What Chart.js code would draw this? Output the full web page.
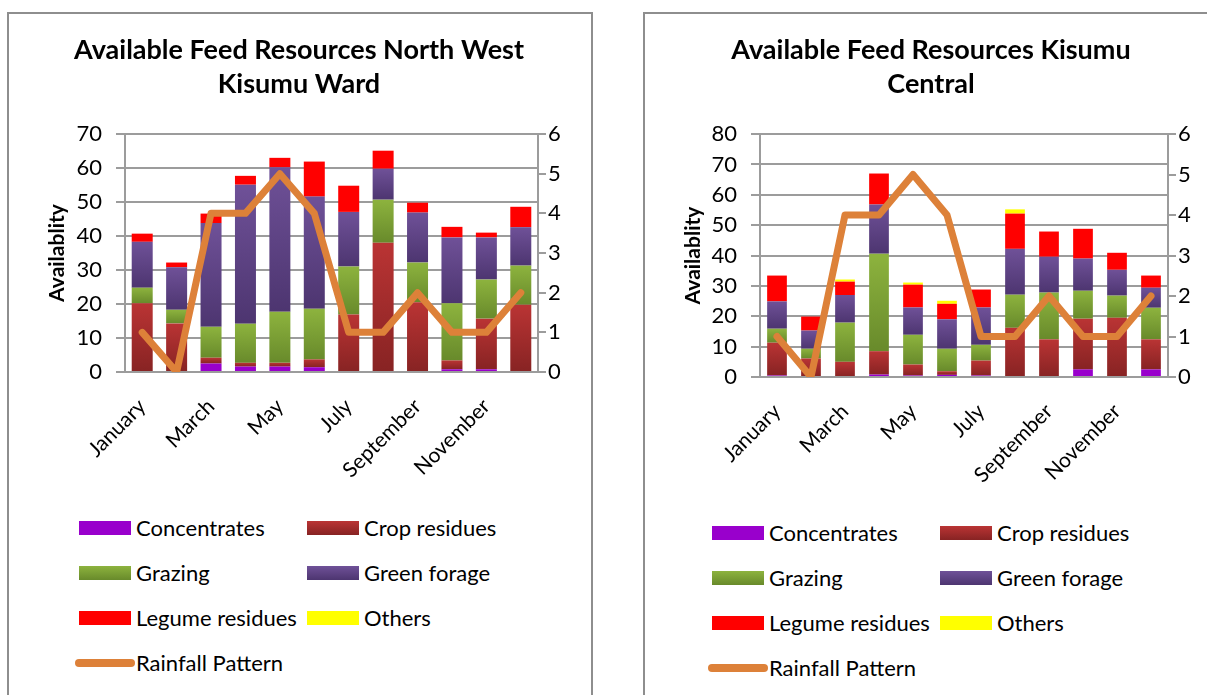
<!DOCTYPE html>
<html>
<head>
<meta charset="utf-8">
<script src="https://cdn.jsdelivr.net/npm/chart.js@4"></script>
<style>
  body { margin: 0; width: 1207px; height: 695px; overflow: hidden; background: #fff; font-family: Lato, sans-serif; }
  .box { position: absolute; top: 12px; height: 720px; border: 2px solid #8e8e8e; box-sizing: border-box; }
  .wrap { position: absolute; top: 14px; }
  .legend { position: absolute; font-size: 22px; color: #000; }
  .legend .item { position: absolute; white-space: nowrap; height: 24px; line-height: 24px; }
  .legend .sw { position: absolute; top: 5px; width: 52px; height: 14px; }
  .legend .ln { position: absolute; top: 8px; height: 8px; border-radius: 4px; }
  .legend .tx { position: absolute; }
</style>
</head>
<body>
<div class="box" style="left:7px; width:586px;"></div>
<div class="box" style="left:643px; width:600px;"></div>

<div class="wrap" style="left:9px; width:580px; height:490px;"><canvas id="chart-nw"></canvas></div>
<div class="wrap" style="left:645px; width:572px; height:490px;"><canvas id="chart-central"></canvas></div>

<div class="legend" id="legend-nw"></div>
<div class="legend" id="legend-central"></div>

<script>
const months = ["January", "February", "March", "April", "May", "June", "July",
  "August", "September", "October", "November", "December"];

// North West Kisumu Ward
const nwConcentrates = [0, 0, 2.5, 1.6, 1.6, 1.4, 0, 0, 0, 0.8, 0.8, 0];
const nwCropResidues = [20.2, 14.3, 1.7, 1.1, 1.1, 2.3, 16.9, 38, 20.5, 2.6, 14.9, 19.8];
const nwGrazing = [4.6, 4, 9.1, 11.5, 15, 14.9, 14.1, 12.7, 11.7, 16.8, 11.5, 11.5];
const nwGreenForage = [13.5, 12.5, 30.5, 40.9, 42.5, 33, 16.1, 9.1, 14.7, 19.4, 12.4, 11.3];
const nwLegumeResidues = [2.4, 1.4, 2.8, 2.6, 2.8, 10.3, 7.7, 5.3, 2.9, 3.1, 1.4, 6];
const nwOthers = [0, 0, 0, 0, 0, 0, 0, 0, 0, 0, 0, 0];
const nwRainfall = [1, 0, 4, 4, 5, 4, 1, 1, 2, 1, 1, 2];
const nwTicks = [0, 10, 20, 30, 40, 50, 60, 70];

// Kisumu Central
const cConcentrates = [0.5, 0, 0, 0.8, 0.5, 0.7, 0.5, 0, 0, 2.5, 0, 2.5];
const cCropResidues = [10.8, 6.1, 5, 7.7, 3.6, 1.2, 4.9, 16.2, 12.4, 16.7, 19.5, 9.9];
const cGrazing = [4.6, 3.2, 12.9, 32.1, 9.8, 7.4, 5.2, 10.9, 15.4, 9.2, 7.3, 10.4];
const cGreenForage = [9, 6, 9.1, 16.2, 9, 9.7, 12.3, 15.1, 11.8, 10.6, 8.5, 6.6];
const cLegumeResidues = [8.5, 4.6, 4.4, 10.2, 7.5, 5.1, 5.9, 11.6, 8.3, 9.8, 5.6, 4];
const cOthers = [0, 0, 0.7, 0, 0.7, 1, 0, 1.4, 0, 0, 0, 0];
const cRainfall = [1, 0, 4, 4, 5, 4, 1, 1, 2, 1, 1, 2];
const cTicks = [0, 10, 20, 30, 40, 50, 60, 70, 80];

const rainTicks = [0, 1, 2, 3, 4, 5, 6];

// [name, light top colour, dark bottom colour]
const series = [
  ["Concentrates", "#9900cc", "#9900cc"],
  ["Crop residues", "#ba3434", "#872323"],
  ["Grazing", "#8db33e", "#688a2b"],
  ["Green forage", "#6f5198", "#4d3570"],
  ["Legume residues", "#ff0000", "#ff0000"],
  ["Others", "#ffff00", "#ffff00"],
];
const rainName = "Rainfall Pattern";
const rainColor = "#dd8139";
const gridColor = "#9c9c9c";

Chart.defaults.font.family = "Lato, sans-serif";
Chart.defaults.color = "#000";

// vertical gradient over one stacked segment
function segmentFill(light, dark) {
  return function (ctx) {
    if (light === dark || ctx.type !== "data") return light;
    const chart = ctx.chart;
    const y = chart.scales.y;
    if (!y) return light;
    let base = 0;
    for (let d = 0; d < ctx.datasetIndex; d++) {
      base += chart.data.datasets[d].data[ctx.dataIndex] || 0;
    }
    const top = base + (ctx.raw || 0);
    const y0 = y.getPixelForValue(base);
    const y1 = y.getPixelForValue(top);
    if (!isFinite(y0) || !isFinite(y1) || y0 === y1) return light;
    const g = chart.ctx.createLinearGradient(0, y1, 0, y0);
    g.addColorStop(0, light);
    g.addColorStop(1, dark);
    return g;
  };
}

function makeChart(id, title, values, rain, ticks, barPct, plotLeft, plotRight, plotBottom) {
  const datasets = series.map((s, i) => ({
    type: "bar",
    label: s[0],
    data: values[i],
    backgroundColor: segmentFill(s[1], s[2]),
    yAxisID: "y",
    stack: "feed",
    order: 1,
    barPercentage: barPct,
    categoryPercentage: 1,
  }));
  datasets.push({
    type: "line",
    label: rainName,
    data: rain,
    borderColor: rainColor,
    borderWidth: 7,
    pointRadius: 0,
    tension: 0,
    borderCapStyle: "round",
    borderJoinStyle: "round",
    yAxisID: "y1",
    order: 0,
  });

  const canvas = document.getElementById(id);
  const h = canvas.parentNode.clientHeight;
  const w = canvas.parentNode.clientWidth;

  return new Chart(canvas, {
    data: { labels: months, datasets: datasets },
    options: {
      responsive: true,
      maintainAspectRatio: false,
      animation: false,
      layout: { padding: 0 },
      plugins: {
        legend: { display: false },
        tooltip: { enabled: false },
        title: {
          display: true,
          text: title,
          font: { size: 27, weight: "bold", lineHeight: 1.26 },
          padding: { top: 19, bottom: 33 },
          color: "#000",
        },
      },
      scales: {
        x: {
          stacked: true,
          grid: { display: false },
          border: { display: true, color: gridColor, width: 2 },
          ticks: {
            autoSkip: false,
            maxRotation: 45,
            minRotation: 45,
            padding: 14,
            font: { size: 21 },
            callback: (v, i) => (i % 2 === 0 ? months[i] : ""),
          },
          afterFit: (s) => { s.height = h - plotBottom; },
        },
        y: {
          stacked: true,
          position: "left",
          min: ticks[0],
          max: ticks[ticks.length - 1],
          afterBuildTicks: (s) => { s.ticks = ticks.map((v) => ({ value: v })); },
          grid: { color: gridColor, lineWidth: 2, tickLength: 9 },
          border: { color: gridColor, width: 2 },
          ticks: { padding: 14, font: { size: 22 } },
          title: {
            display: true,
            text: "Availablity",
            font: { size: 21, weight: "bold" },
            padding: { top: 36 },
          },
          afterFit: (s) => { s.width = plotLeft; },
        },
        y1: {
          position: "right",
          min: 0,
          max: 6,
          afterBuildTicks: (s) => { s.ticks = rainTicks.map((v) => ({ value: v })); },
          grid: { drawOnChartArea: false, color: gridColor, lineWidth: 2, tickLength: 8 },
          border: { color: gridColor, width: 2 },
          ticks: { padding: 2, font: { size: 22 } },
          afterFit: (s) => { s.width = w - plotRight; },
        },
      },
    },
  });
}

function makeLegend(id, left, top, col2) {
  const el = document.getElementById(id);
  el.style.left = left + "px";
  el.style.top = top + "px";
  let html = "";
  series.forEach((s, i) => {
    const x = (i % 2) * col2;
    const y = Math.floor(i / 2) * 45;
    html += '<div class="item" style="left:' + x + "px;top:" + y + 'px">' +
      '<span class="sw" style="left:0;background:linear-gradient(' + s[1] + "," + s[2] + ')"></span>' +
      '<span class="tx" style="left:57px">' + s[0] + "</span></div>";
  });
  html += '<div class="item" style="left:0;top:135px">' +
    '<span class="ln" style="left:-4px;width:60px;background:' + rainColor + '"></span>' +
    '<span class="tx" style="left:57px">' + rainName + "</span></div>";
  el.innerHTML = html;
}

makeChart("chart-nw", ["Available Feed Resources North West", "Kisumu Ward"],
  [nwConcentrates, nwCropResidues, nwGrazing, nwGreenForage, nwLegumeResidues, nwOthers],
  nwRainfall, nwTicks, 0.61, 116, 529, 358);

makeChart("chart-central", ["Available Feed Resources Kisumu", "Central"],
  [cConcentrates, cCropResidues, cGrazing, cGreenForage, cLegumeResidues, cOthers],
  cRainfall, cTicks, 0.58, 115, 523, 363);

makeLegend("legend-nw", 79, 516, 228);
makeLegend("legend-central", 712, 521, 228);
</script>
</body>
</html>
